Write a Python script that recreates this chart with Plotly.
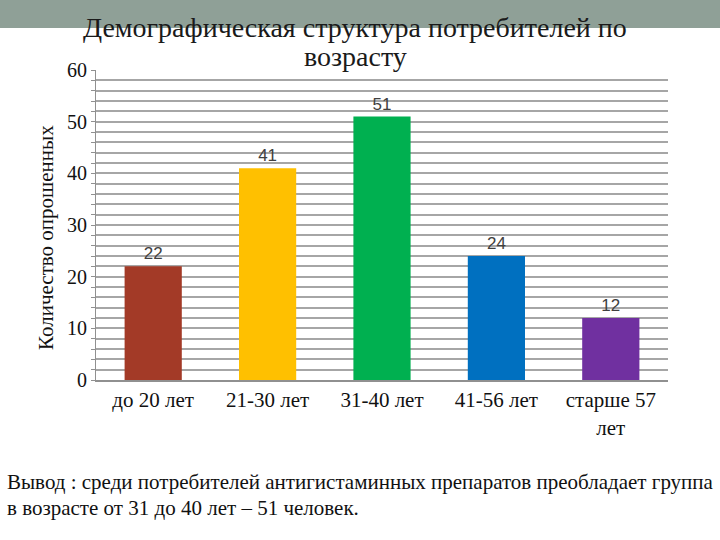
import plotly.graph_objects as go

categories = ["до 20 лет", "21-30 лет", "31-40 лет", "41-56 лет", "старше 57<br>лет"]
values = [22, 41, 51, 24, 12]
colors = ["#A33A27", "#FFC000", "#00B050", "#0070C0", "#7030A0"]
y_ticks = [0, 10, 20, 30, 40, 50, 60]

L, R, T, B = 96, 668, 70, 380
W, H = 720, 540
pw, ph = R - L, B - T

def px_x(p):
    return (p - L) / pw

def px_y(p):
    return (B - p) / ph

fig = go.Figure()
fig.add_trace(go.Bar(
    x=categories, y=values, marker=dict(color=colors, line=dict(width=0)),
    width=0.5, text=[str(v) for v in values], textposition="outside",
    textfont=dict(family="Liberation Sans", size=17, color="#404040"),
    cliponaxis=False,
))

serif = "Liberation Serif"

fig.update_layout(
    width=W, height=H, margin=dict(l=L, r=W - R, t=T, b=H - B),
    paper_bgcolor="white", plot_bgcolor="white", showlegend=False,
    font=dict(family=serif),
    xaxis=dict(range=[-0.5, 4.5], showgrid=False, showline=True, linecolor="#909090", linewidth=2,
               tickfont=dict(family=serif, size=21, color="#111111"), ticks=""),
    yaxis=dict(range=[0, 60], showgrid=True, gridcolor="#A6A6A6", gridwidth=1.5,
               tickvals=list(range(0, 61, 2)),
               ticktext=[str(v) if v in y_ticks else "" for v in range(0, 61, 2)],
               showline=True, linecolor="#909090", linewidth=1, ticks="outside", ticklen=4,
               tickcolor="#909090", zeroline=False,
               tickfont=dict(family=serif, size=20, color="#111111")),
)

fig.add_shape(type="rect", xref="paper", yref="paper", layer="below",
              x0=px_x(0), x1=px_x(W), y0=px_y(28), y1=px_y(-2),
              fillcolor="#8FA097", line=dict(width=0))

fig.add_annotation(xref="paper", yref="paper", x=px_x(46), y=px_y(238), textangle=-90,
                   xanchor="center", yanchor="middle",
                   text="Количество опрошенных", showarrow=False,
                   font=dict(family=serif, size=21, color="#111111"))

fig.add_annotation(xref="paper", yref="paper", x=px_x(355), y=px_y(27), yanchor="middle",
                   text="Демографическая структура потребителей по", showarrow=False,
                   font=dict(family=serif, size=28, color="#1a1a1a"))
fig.add_annotation(xref="paper", yref="paper", x=px_x(355), y=px_y(57), yanchor="middle",
                   text="возрасту", showarrow=False,
                   font=dict(family=serif, size=28, color="#1a1a1a"))

fig.add_annotation(xref="paper", yref="paper", x=px_x(5), y=px_y(482), xanchor="left", yanchor="middle",
                   text="Вывод : среди потребителей антигистаминных препаратов преобладает группа",
                   showarrow=False, font=dict(family=serif, size=21, color="#111111"))
fig.add_annotation(xref="paper", yref="paper", x=px_x(5), y=px_y(508), xanchor="left", yanchor="middle",
                   text="в возрасте от 31 до 40 лет – 51 человек.",
                   showarrow=False, font=dict(family=serif, size=21, color="#111111"))

fig.write_html("out.html")
